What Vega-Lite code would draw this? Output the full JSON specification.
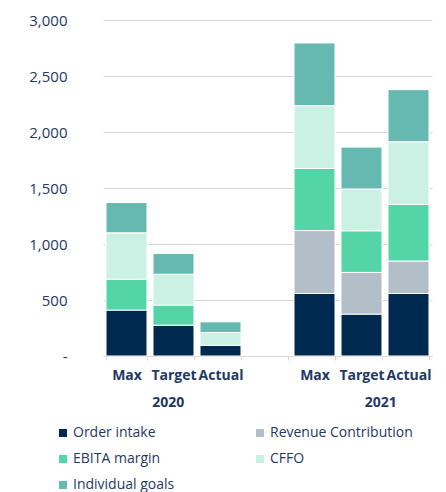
{
  "$schema": "https://vega.github.io/schema/vega-lite/v6.json",
  "width": 329,
  "height": 336,
  "autosize": {"type": "none"},
  "padding": {"left": 103, "top": 20, "right": 14, "bottom": 136},
  "background": "white",
  "config": {"view": {"stroke": null}, "font": "Open Sans"},
  "layer": [
    {
      "data": {
        "values": [
          {"bar": "2020|Max", "series": "Order intake", "rank": 1, "value": 410},
          {"bar": "2020|Max", "series": "EBITA margin", "rank": 3, "value": 275},
          {"bar": "2020|Max", "series": "CFFO", "rank": 4, "value": 415},
          {"bar": "2020|Max", "series": "Individual goals", "rank": 5, "value": 270},
          {"bar": "2020|Target", "series": "Order intake", "rank": 1, "value": 275},
          {"bar": "2020|Target", "series": "EBITA margin", "rank": 3, "value": 180},
          {"bar": "2020|Target", "series": "CFFO", "rank": 4, "value": 275},
          {"bar": "2020|Target", "series": "Individual goals", "rank": 5, "value": 185},
          {"bar": "2020|Actual", "series": "Order intake", "rank": 1, "value": 95},
          {"bar": "2020|Actual", "series": "CFFO", "rank": 4, "value": 115},
          {"bar": "2020|Actual", "series": "Individual goals", "rank": 5, "value": 95},
          {"bar": "2021|Max", "series": "Order intake", "rank": 1, "value": 558},
          {"bar": "2021|Max", "series": "Revenue Contribution", "rank": 2, "value": 562},
          {"bar": "2021|Max", "series": "EBITA margin", "rank": 3, "value": 555},
          {"bar": "2021|Max", "series": "CFFO", "rank": 4, "value": 560},
          {"bar": "2021|Max", "series": "Individual goals", "rank": 5, "value": 560},
          {"bar": "2021|Target", "series": "Order intake", "rank": 1, "value": 374},
          {"bar": "2021|Target", "series": "Revenue Contribution", "rank": 2, "value": 372},
          {"bar": "2021|Target", "series": "EBITA margin", "rank": 3, "value": 372},
          {"bar": "2021|Target", "series": "CFFO", "rank": 4, "value": 373},
          {"bar": "2021|Target", "series": "Individual goals", "rank": 5, "value": 374},
          {"bar": "2021|Actual", "series": "Order intake", "rank": 1, "value": 558},
          {"bar": "2021|Actual", "series": "Revenue Contribution", "rank": 2, "value": 290},
          {"bar": "2021|Actual", "series": "EBITA margin", "rank": 3, "value": 505},
          {"bar": "2021|Actual", "series": "CFFO", "rank": 4, "value": 560},
          {"bar": "2021|Actual", "series": "Individual goals", "rank": 5, "value": 465}
        ]
      },
      "mark": {"type": "bar", "stroke": "white", "strokeWidth": 1},
      "encoding": {
        "x": {
          "field": "bar",
          "type": "nominal",
          "title": null,
          "scale": {
            "domain": ["2020|Max", "2020|Target", "2020|Actual", "gap", "2021|Max", "2021|Target", "2021|Actual"],
            "paddingInner": 0.128,
            "paddingOuter": 0.064
          },
          "axis": {
            "title": null,
            "labelAngle": 0,
            "labelExpr": "datum.value == 'gap' ? '' : split(datum.value, '|')[1]",
            "labelFont": "Open Sans",
            "labelFontSize": 14,
            "labelFontWeight": "bold",
            "labelColor": "#1f3864",
            "labelPadding": 8,
            "labelOverlap": false,
            "labelBound": false,
            "domainColor": "#d9d9d9",
            "tickColor": "#d9d9d9",
            "tickSize": 4,
            "tickBand": "extent",
            "grid": false
          }
        },
        "y": {
          "field": "value",
          "type": "quantitative",
          "stack": "zero",
          "title": null,
          "scale": {"domain": [0, 3000], "nice": false},
          "axis": {
            "title": null,
            "values": [0, 500, 1000, 1500, 2000, 2500, 3000],
            "domain": false,
            "ticks": false,
            "tickSize": 0,
            "labelPadding": 36,
            "labelFont": "Open Sans",
            "labelFontSize": 15,
            "labelColor": "#1f3864",
            "gridColor": "#d9d9d9",
            "gridWidth": 1,
            "labelExpr": "datum.value == 0 ? '-' : format(datum.value, ',')"
          }
        },
        "color": {
          "field": "series",
          "type": "nominal",
          "scale": {
            "domain": ["Order intake", "Revenue Contribution", "EBITA margin", "CFFO", "Individual goals"],
            "range": ["#00294f", "#b2bec8", "#54d5a8", "#caf1e3", "#66b9b0"]
          },
          "legend": {
            "title": null,
            "orient": "none",
            "legendX": -47,
            "legendY": 406,
            "direction": "horizontal",
            "columns": 2,
            "columnPadding": 78,
            "rowPadding": 12,
            "symbolType": "square",
            "symbolSize": 64,
            "symbolStrokeWidth": 0,
            "labelFont": "Open Sans",
            "labelFontSize": 14,
            "labelColor": "#1f3864",
            "labelOffset": 3,
            "labelLimit": 300
          }
        },
        "order": {"field": "rank", "type": "quantitative"}
      }
    },
    {
      "data": {"values": [{"bar": "2020|Target", "year": "2020"}]},
      "mark": {"type": "text", "font": "Open Sans", "fontSize": 14, "fontWeight": "bold", "color": "#1f3864", "baseline": "middle", "align": "center"},
      "encoding": {
        "x": {"field": "bar", "type": "nominal", "title": null, "bandPosition": 0.37},
        "y": {"datum": -420, "type": "quantitative", "title": null},
        "text": {"field": "year"}
      }
    },
    {
      "data": {"values": [{"bar": "2021|Target", "year": "2021"}]},
      "mark": {"type": "text", "font": "Open Sans", "fontSize": 14, "fontWeight": "bold", "color": "#1f3864", "baseline": "middle", "align": "center"},
      "encoding": {
        "x": {"field": "bar", "type": "nominal", "title": null, "bandPosition": 0.97},
        "y": {"datum": -420, "type": "quantitative", "title": null},
        "text": {"field": "year"}
      }
    }
  ]
}
